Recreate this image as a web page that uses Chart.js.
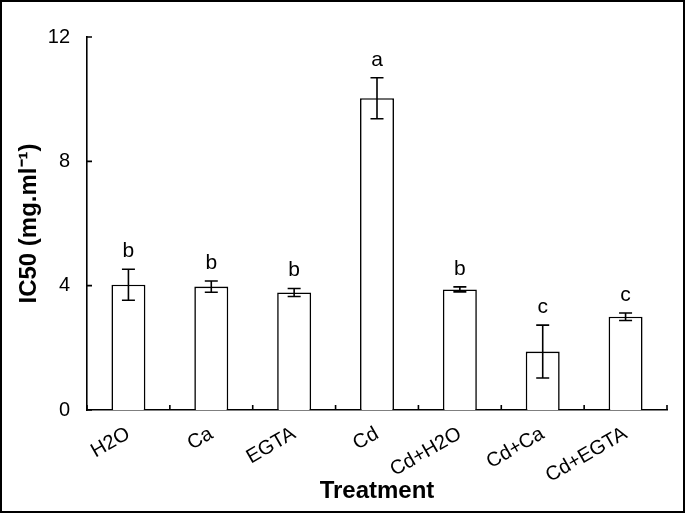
<!DOCTYPE html>
<html>
<head>
<meta charset="utf-8">
<script src="https://cdn.jsdelivr.net/npm/chart.js@4.4.1/dist/chart.umd.min.js"></script>
<style>
  html, body { margin: 0; padding: 0; background: #fff; }
  #wrap { width: 685px; height: 513px; }
</style>
</head>
<body>
<div id="wrap"><canvas id="ic50Chart" width="685" height="513"></canvas></div>
<script>
const treatments = ['H2O', 'Ca', 'EGTA', 'Cd', 'Cd+H2O', 'Cd+Ca', 'Cd+EGTA'];
const ic50Mean = [4.03, 3.97, 3.78, 10.03, 3.88, 1.88, 3.0];
const ic50Err = [0.5, 0.18, 0.13, 0.66, 0.08, 0.85, 0.12];
const groupLetters = ['b', 'b', 'b', 'a', 'b', 'c', 'c'];
const yTicks = [0, 4, 8, 12];

const FONT = '"Liberation Sans", Arial, sans-serif';

// error bars, letters, inward ticks and the frame
const extras = {
  id: 'extras',
  afterDatasetsDraw(chart) {
    const ctx = chart.ctx;
    const x = chart.scales.x, y = chart.scales.y;
    const area = chart.chartArea;
    ctx.save();
    ctx.strokeStyle = '#000';
    ctx.lineWidth = 1.6;
    ctx.fillStyle = '#000';
    ctx.font = '21px ' + FONT;
    ctx.textAlign = 'center';
    ctx.textBaseline = 'alphabetic';
    ic50Mean.forEach((m, i) => {
      const px = x.getPixelForValue(i);
      const top = y.getPixelForValue(m + ic50Err[i]);
      const bot = y.getPixelForValue(m - ic50Err[i]);
      ctx.beginPath();
      ctx.moveTo(px, top); ctx.lineTo(px, bot);
      ctx.moveTo(px - 6.5, top); ctx.lineTo(px + 6.5, top);
      ctx.moveTo(px - 6.5, bot); ctx.lineTo(px + 6.5, bot);
      ctx.stroke();
      ctx.fillText(groupLetters[i], px, top - 12);
    });
    // inward ticks
    ctx.beginPath();
    yTicks.forEach(v => {
      const py = y.getPixelForValue(v);
      ctx.moveTo(area.left, py); ctx.lineTo(area.left + 5, py);
    });
    const n = treatments.length;
    for (let i = 0; i <= n; i++) {
      const px = area.left + i * (area.right - area.left) / n;
      ctx.moveTo(px, area.bottom); ctx.lineTo(px, area.bottom - 5);
    }
    ctx.stroke();
    ctx.restore();
  },
  afterDraw(chart) {
    const ctx = chart.ctx;
    ctx.save();
    ctx.strokeStyle = '#000';
    ctx.lineWidth = 2;
    ctx.strokeRect(1, 1, chart.width - 2, chart.height - 2);
    ctx.restore();
  }
};

const chartData = {
  labels: treatments,
  datasets: [{
    data: ic50Mean,
    backgroundColor: '#fff',
    borderColor: '#000',
    borderWidth: 1.6,
    categoryPercentage: 1,
    barPercentage: 0.41
  }]
};

const config = {
  type: 'bar',
  data: chartData,
  options: {
    responsive: false,
    animation: false,
    layout: { padding: { left: 11, top: 37, right: 18, bottom: 3 } },
    plugins: {
      legend: { display: false },
      tooltip: { enabled: false }
    },
    scales: {
      x: {
        grid: { display: false, drawTicks: false },
        border: { display: true, color: '#000', width: 1.6 },
        ticks: {
          color: '#000',
          font: { family: FONT, size: 20 },
          minRotation: 30,
          maxRotation: 30,
          autoSkip: false,
          padding: 12
        },
        title: {
          display: true,
          text: 'Treatment',
          color: '#000',
          font: { family: FONT, size: 24, weight: 'bold' },
          padding: { top: 0, bottom: 4 }
        },
        afterFit: s => { s.height = 100; }
      },
      y: {
        min: 0,
        max: 12,
        grid: { display: false, drawTicks: false },
        border: { display: true, color: '#000', width: 1.6 },
        afterBuildTicks: s => { s.ticks = yTicks.map(v => ({ value: v })); },
        ticks: {
          color: '#000',
          font: { family: FONT, size: 20 },
          padding: 17
        },
        title: {
          display: true,
          text: 'IC50 (mg.ml\u207B\u00B9)',
          color: '#000',
          font: { family: FONT, size: 24, weight: 'bold' },
          padding: { top: 4, bottom: 0 }
        },
        afterFit: s => { s.width = 76; }
      }
    }
  },
  plugins: [extras]
};

const ic50Chart = new Chart(document.getElementById('ic50Chart'), config);
</script>
</body>
</html>
